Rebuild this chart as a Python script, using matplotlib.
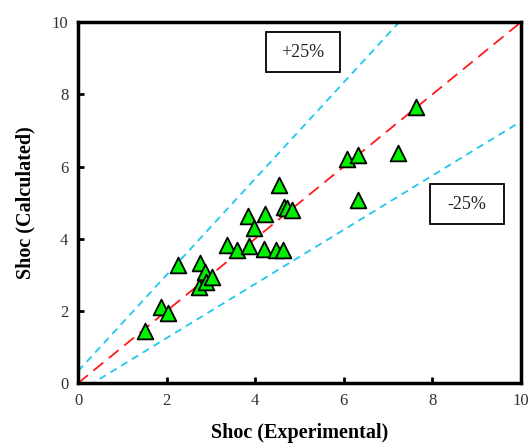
import matplotlib
matplotlib.use("Agg")
import matplotlib.pyplot as plt
from matplotlib.patches import Rectangle
import numpy as np

plt.rcParams['font.family'] = ['Liberation Serif', 'DejaVu Serif']

# Experimental vs calculated Shoc values
shoc_exp = [1.51, 1.88, 2.03, 2.26, 2.75, 2.87, 2.72, 2.90, 3.02, 3.36, 3.60,
            3.86, 3.83, 3.98, 4.23, 4.19, 4.48, 4.63, 4.53, 4.65, 4.71, 4.82,
            6.08, 6.33, 6.33, 7.23, 7.63]
shoc_calc = [1.45, 2.12, 1.95, 3.27, 3.32, 3.08, 2.67, 2.81, 2.94, 3.82, 3.68,
             3.79, 4.64, 4.30, 4.70, 3.72, 3.68, 3.68, 5.49, 4.88, 4.85, 4.81,
             6.22, 6.33, 5.08, 6.39, 7.66]

x_ticks = [0, 2, 4, 6, 8, 10]
y_ticks = [0, 2, 4, 6, 8, 10]
band_labels = ["+25%", "-25%"]

fig = plt.figure(figsize=(5.31, 4.44), dpi=100)
ax = fig.add_axes([0.147, 0.137, 0.834, 0.813])

xx = np.linspace(0, 10, 200)
# Parity line and the +/-25% band
ax.plot(xx, xx, color='#ff1a1a', lw=1.3, dashes=(7, 4), zorder=2)
ax.plot(xx, (xx + 0.25) / 0.75, color='#1ec8ef', lw=1.3, dashes=(4, 3), zorder=2)
ax.plot(xx, 0.75 * xx - 0.25, color='#1ec8ef', lw=1.3, dashes=(4, 3), zorder=2)

ax.scatter(shoc_exp, shoc_calc, marker='^', s=128, c='#00f000',
           edgecolors='black', linewidths=1.3, zorder=3)

# Band annotation boxes
for (x0, y0), label in zip([(4.24, 8.61), (7.95, 4.40)], band_labels):
    ax.add_patch(Rectangle((x0, y0), 1.67, 1.11, fill=True, facecolor='white',
                           edgecolor='black', lw=1.3, zorder=4))
    ax.text(x0 + 0.835, y0 + 0.555, label, ha='center', va='center',
            fontsize=13, color='#222222', zorder=5)

ax.set_xlim(0, 10)
ax.set_ylim(0, 10)
ax.set_xticks(x_ticks)
ax.set_yticks(y_ticks)
ax.tick_params(direction='in', length=4, width=2, labelsize=12, pad=7,
               labelcolor='#333333', top=False, right=False)
for sp in ax.spines.values():
    sp.set_linewidth(2.5)

ax.set_xlabel('Shoc (Experimental)', fontsize=14.5, fontweight='bold', labelpad=10)
ax.set_ylabel('Shoc (Calculated)', fontsize=14.5, fontweight='bold', labelpad=12)

fig.savefig('out.png', dpi=100)
